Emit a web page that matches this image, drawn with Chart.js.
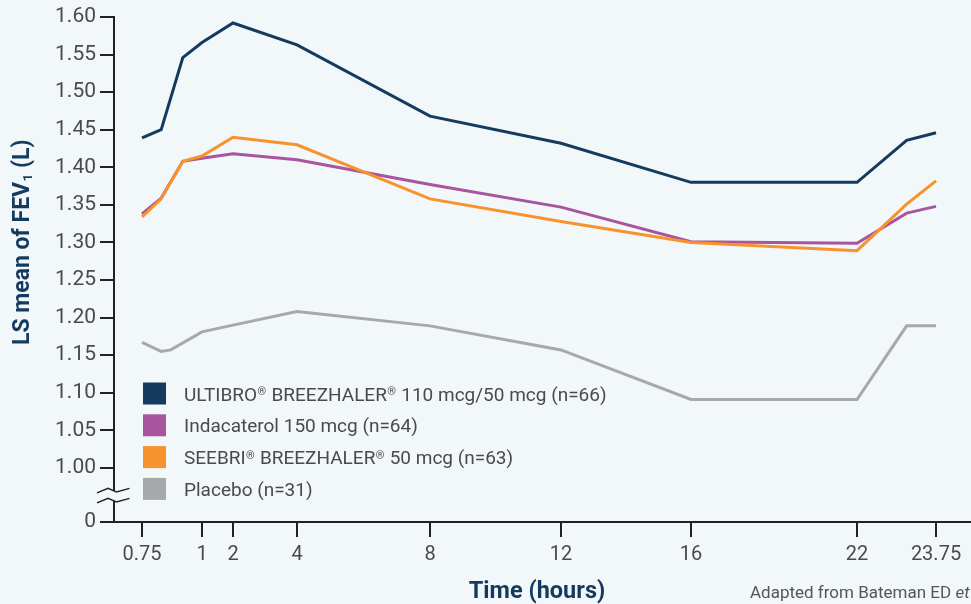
<!DOCTYPE html>
<html>
<head>
<meta charset="utf-8">
<script src="https://cdn.jsdelivr.net/npm/chart.js@4.4.0/dist/chart.umd.min.js"></script>
<style>
  html, body { margin: 0; padding: 0; background: #f2f7fa; }
  canvas { display: block; }
</style>
</head>
<body>
<canvas id="fevChart" width="971" height="604"></canvas>
<script>
const navyColor = '#143a5e'
const purpleColor = '#a8559e'
const orangeColor = '#f7922c'
const greyColor = '#a7a8aa'
const axisColor = '#222222'
const textColor = '#4a4a4a'
const bgColor = '#f2f7fa'

// x axis (hours) and where each tick sits along the axis (fraction of width)
const tickHours = [0.75, 1, 2, 4, 8, 12, 16, 22, 23.75]
const tickLabels = ['0.75', '1', '2', '4', '8', '12', '16', '22', '23.75']
const tickFrac = [142, 202, 233, 297, 430, 561, 691, 857, 936].map(p => (p - 114) / 857)

// y axis ticks (the lowest one is the broken "0")
const yTicks = [1.00, 1.05, 1.10, 1.15, 1.20, 1.25, 1.30, 1.35, 1.40, 1.45, 1.50, 1.55, 1.60]
const yMin = 0.928

// time points (hours)
const timesActive = [0.75, 0.83, 0.92, 1, 2, 4, 8, 12, 16, 22, 23.1, 23.75]
const timesPlacebo = [0.75, 0.83, 0.87, 1, 2, 4, 8, 12, 16, 22, 23.1, 23.75]

// LS mean FEV1 (L)
const ultibro = [1.439, 1.450, 1.546, 1.566, 1.592, 1.563, 1.468, 1.432, 1.380, 1.380, 1.436, 1.446]
const indacaterol = [1.338, 1.359, 1.408, 1.412, 1.418, 1.410, 1.377, 1.347, 1.301, 1.299, 1.339, 1.348]
const seebri = [1.334, 1.358, 1.408, 1.415, 1.440, 1.430, 1.358, 1.328, 1.300, 1.289, 1.351, 1.382]
const placebo = [1.167, 1.155, 1.157, 1.181, 1.190, 1.208, 1.189, 1.157, 1.091, 1.091, 1.189, 1.189]

const seriesNames = [
	'ULTIBRO\u00ae BREEZHALER\u00ae 110 mcg/50 mcg (n=66)',
	'Indacaterol 150 mcg (n=64)',
	'SEEBRI\u00ae BREEZHALER\u00ae 50 mcg (n=63)',
	'Placebo (n=31)'
]
const seriesColors = [navyColor, purpleColor, orangeColor, greyColor]

function toPoints(times, values) {
	return values.map((v, i) => ({ x: times[i], y: v }))
}

// linear scale with uneven spacing between the hour ticks
class PiecewiseScale extends Chart.LinearScale {
	getPixelForValue(value) {
		if (value === null || value === undefined || isNaN(value)) return NaN
		var i = 0
		while (i < tickHours.length - 2 && value > tickHours[i + 1]) i++
		var t = (value - tickHours[i]) / (tickHours[i + 1] - tickHours[i])
		var frac = tickFrac[i] + t * (tickFrac[i + 1] - tickFrac[i])
		return this.left + frac * this.width
	}
	getValueForPixel(pixel) {
		var frac = (pixel - this.left) / this.width
		var i = 0
		while (i < tickFrac.length - 2 && frac > tickFrac[i + 1]) i++
		var t = (frac - tickFrac[i]) / (tickFrac[i + 1] - tickFrac[i])
		return tickHours[i] + t * (tickHours[i + 1] - tickHours[i])
	}
}
PiecewiseScale.id = 'piecewise'
PiecewiseScale.defaults = Chart.LinearScale.defaults
Chart.register(PiecewiseScale)

Chart.defaults.font.family = 'Roboto'

// draws text where ® is set small and raised
function drawWithMarks(ctx, text, x, y) {
	var parts = text.split('\u00ae')
	for (var i = 0; i < parts.length; i++) {
		ctx.font = '19px Roboto'
		ctx.fillText(parts[i], x, y)
		x += ctx.measureText(parts[i]).width
		if (i < parts.length - 1) {
			ctx.font = '11px Roboto'
			ctx.fillText('\u00ae', x + 0.5, y - 5.5)
			x += ctx.measureText('\u00ae').width + 1
		}
	}
}

const decorPlugin = {
	id: 'decor',
	beforeDatasetsDraw(chart) {
		const ctx = chart.ctx
		const a = chart.chartArea
		ctx.save()
		ctx.strokeStyle = axisColor
		ctx.lineWidth = 2
		ctx.beginPath()
		ctx.moveTo(a.left, a.top - 1)
		ctx.lineTo(a.left, a.bottom)
		ctx.moveTo(a.left - 14, a.bottom)
		ctx.lineTo(chart.width, a.bottom)
		ctx.stroke()

		// axis break
		const yb = chart.scales.y.getPixelForValue(1.00) + 24
		const zig = [[-17, 1], [-6, -3.5], [2.5, 0], [15.5, -3.5]]
		ctx.fillStyle = bgColor
		ctx.beginPath()
		zig.forEach((p, i) => i ? ctx.lineTo(a.left + p[0], yb + p[1]) : ctx.moveTo(a.left + p[0], yb + p[1]))
		zig.slice().reverse().forEach(p => ctx.lineTo(a.left + p[0], yb + 10 + p[1]))
		ctx.closePath()
		ctx.fill()
		ctx.lineWidth = 1.5
		for (const off of [0, 10]) {
			ctx.beginPath()
			zig.forEach((p, i) => i ? ctx.lineTo(a.left + p[0], yb + off + p[1]) : ctx.moveTo(a.left + p[0], yb + off + p[1]))
			ctx.stroke()
		}
		ctx.restore()
	},
	afterDraw(chart) {
		const ctx = chart.ctx
		const a = chart.chartArea
		ctx.save()

		// legend
		ctx.textBaseline = 'alphabetic'
		ctx.textAlign = 'left'
		for (var i = 0; i < seriesNames.length; i++) {
			var cy = 393.5 + i * 31.8
			ctx.fillStyle = seriesColors[i]
			ctx.fillRect(a.left + 29, cy - 11, 23, 22)
			ctx.fillStyle = textColor
			drawWithMarks(ctx, seriesNames[i], a.left + 70, cy + 7)
		}

		// y title with subscript
		ctx.fillStyle = navyColor
		ctx.translate(21, (a.top + chart.scales.y.getPixelForValue(1.00)) / 2)
		ctx.rotate(-Math.PI / 2)
		const big = 'bold 23px Roboto'
		const small = 'bold 13.5px Roboto'
		const p1 = 'LS mean of FEV', p2 = '1', p3 = ' (L)'
		ctx.font = big
		const w1 = ctx.measureText(p1).width, w3 = ctx.measureText(p3).width
		ctx.font = small
		const w2 = ctx.measureText(p2).width
		var x = -(w1 + w2 + w3) / 2
		ctx.font = big
		ctx.fillText(p1, x, 8)
		ctx.font = small
		ctx.fillText(p2, x + w1 + 0.5, 11)
		ctx.font = big
		ctx.fillText(p3, x + w1 + w2 + 0.5, 8)
		ctx.setTransform(1, 0, 0, 1, 0, 0)

		// x title
		ctx.font = 'bold 23.5px Roboto'
		ctx.textAlign = 'center'
		ctx.fillText('Time (hours)', 537, 598)

		// source note
		ctx.textAlign = 'left'
		ctx.fillStyle = '#555555'
		ctx.font = '17px Roboto'
		const note = 'Adapted from Bateman ED '
		ctx.fillText(note, 750, 598)
		const wn = ctx.measureText(note).width
		ctx.font = 'italic 17px Roboto'
		ctx.fillText('et al.', 750 + wn, 598)
		ctx.restore()
	}
}

const ctxF = document.getElementById('fevChart')
const allSeries = [ultibro, indacaterol, seebri, placebo]
const drawOrder = [1, 2, 0, 3]

new Chart(ctxF, {
	type: 'line',
	data: {
		datasets: allSeries.map((vals, i) => ({
			label: seriesNames[i],
			data: toPoints(i === 3 ? timesPlacebo : timesActive, vals),
			borderColor: seriesColors[i],
			backgroundColor: seriesColors[i],
			borderWidth: 3,
			pointRadius: 0,
			tension: 0,
			fill: false,
			order: drawOrder[i]
		}))
	},
	options: {
		responsive: false,
		animation: false,
		events: [],
		layout: { padding: { top: 17, right: 0, bottom: 0, left: 0 }, autoPadding: false },
		plugins: { legend: { display: false }, tooltip: { enabled: false } },
		scales: {
			x: {
				type: 'piecewise',
				position: 'bottom',
				min: 0.75,
				max: 23.75,
				afterFit: s => { s.height = 82 },
				afterBuildTicks: s => { s.ticks = tickHours.map(v => ({ value: v })) },
				border: { display: false },
				grid: { drawOnChartArea: false, drawTicks: true, tickLength: 15, color: axisColor, lineWidth: 2 },
				ticks: {
					autoSkip: false,
					maxRotation: 0,
					padding: 6,
					color: textColor,
					font: { size: 20 },
					callback: (v, i) => tickLabels[i]
				}
			},
			y: {
				min: yMin,
				max: 1.60,
				afterFit: s => { s.width = 114 },
				afterBuildTicks: s => { s.ticks = [yMin].concat(yTicks).map(v => ({ value: v })) },
				border: { display: false },
				grid: { drawOnChartArea: false, drawTicks: true, tickLength: 14, color: axisColor, lineWidth: 2 },
				ticks: {
					padding: 4,
					color: textColor,
					font: { size: 21 },
					callback: v => v < 1 ? '0' : v.toFixed(2)
				}
			}
		}
	},
	plugins: [decorPlugin]
})
</script>
</body>
</html>
